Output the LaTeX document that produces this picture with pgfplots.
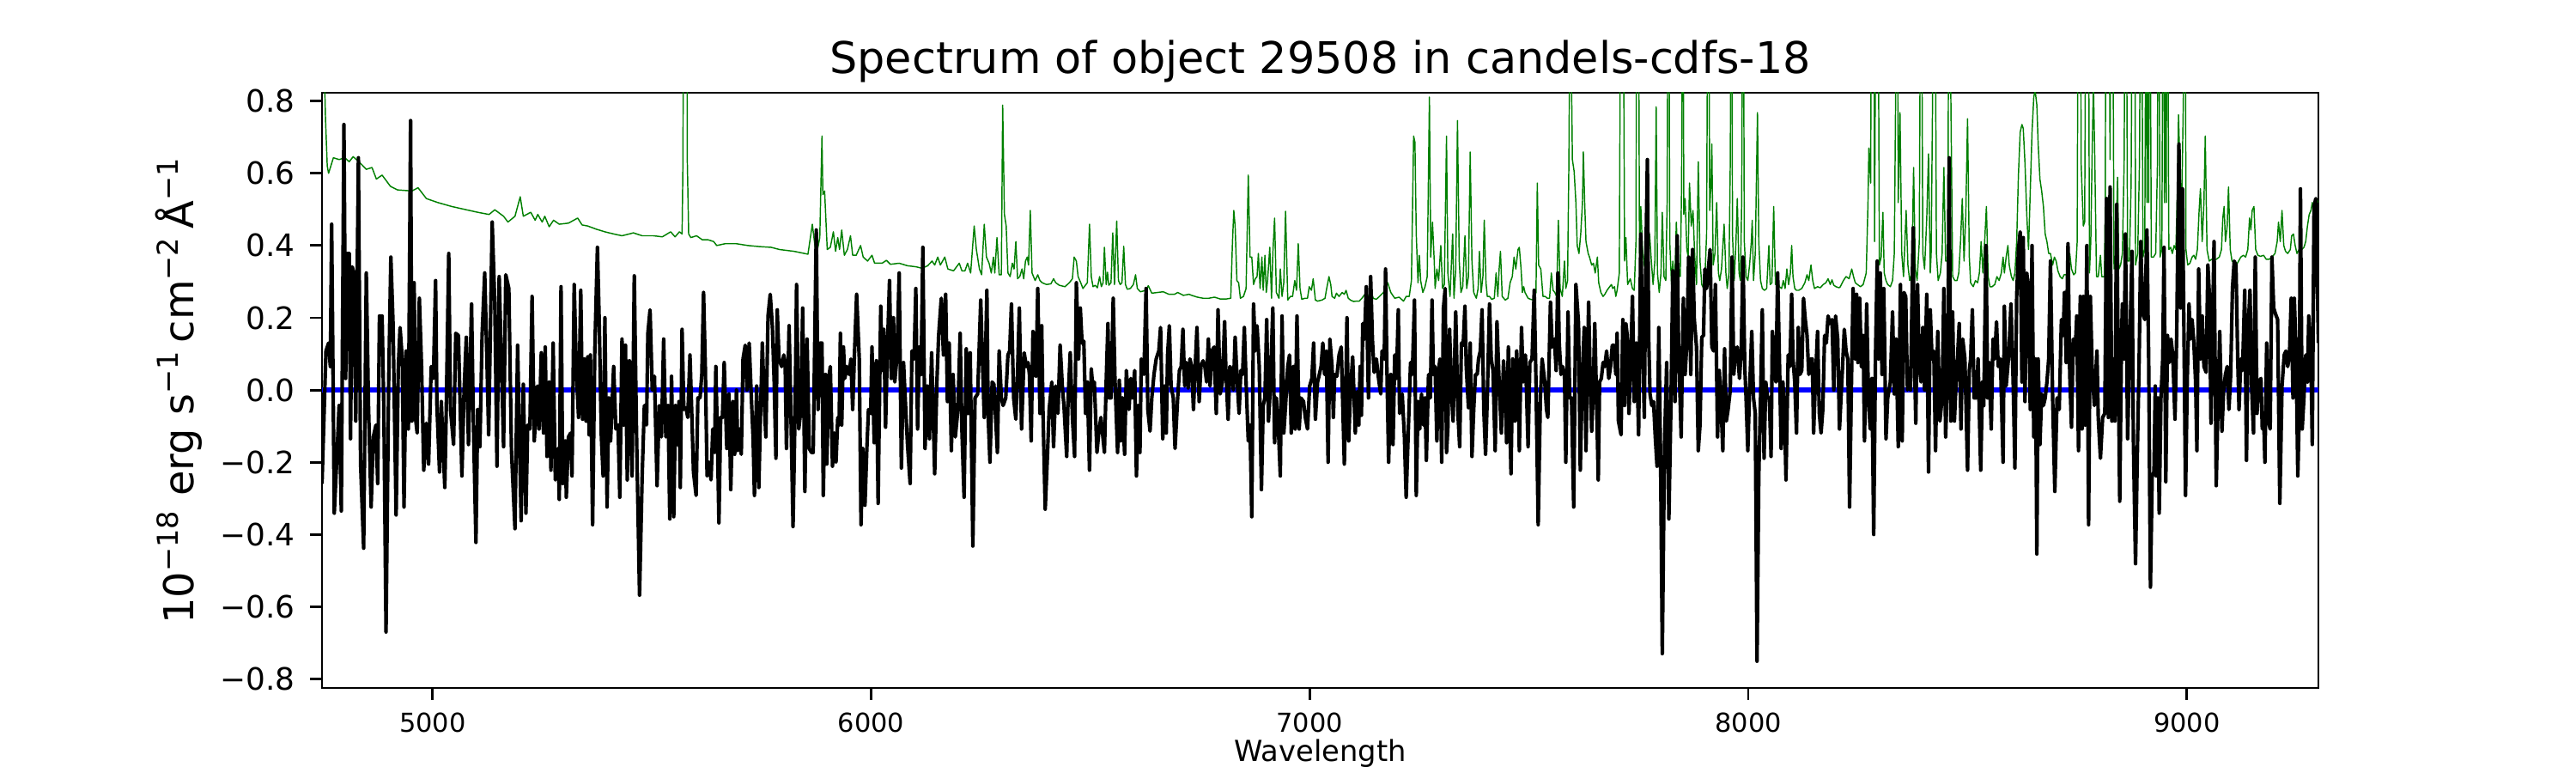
\documentclass[border=0pt]{standalone}
\usepackage{fontspec}
\setmainfont{DejaVu Sans}
\usepackage{pgfplots}
\usepackage{pgfplotstable}
\pgfplotsset{compat=1.18}
\definecolor{mplgreen}{RGB}{0,128,0}
\definecolor{mplblue}{RGB}{0,0,255}

\pgfplotstableread{
lam flux
4748 -0.26
4757 0.108
4763 0.13
4767 0.065
4770 0.459
4776 -0.341
4782 -0.184
4787 -0.043
4792 -0.335
4798 0.735
4802 0.032
4805 0.378
4810 0.378
4813 -0.135
4817 0.341
4821 0.324
4825 -0.086
4831 0.643
4836 -0.205
4843 -0.438
4849 0.324
4854 -0.043
4860 -0.324
4865 -0.13
4871 -0.097
4875 -0.259
4879 0.205
4885 0.205
4889 -0.054
4894 -0.67
4900 0.022
4905 0.368
4910 0.184
4917 -0.346
4922 0.065
4926 0.173
4931 0.086
4935 -0.324
4940 0.108
4945 -0.108
4950 0.746
4953 -0.086
4958 0.297
4962 -0.086
4965 -0.119
4970 0.254
4975 0.065
4980 -0.222
4986 -0.092
4991 -0.205
4997 0.065
5002 0.032
5007 0.303
5010 -0.043
5016 -0.227
5020 -0.032
5028 -0.27
5031 -0.076
5037 0.378
5041 -0.054
5048 -0.151
5053 0.157
5059 0.151
5067 -0.238
5072 0.0
5077 0.146
5082 -0.151
5089 0.238
5093 -0.076
5099 -0.422
5103 -0.054
5108 -0.157
5113 0.151
5119 0.324
5124 0.086
5128 -0.124
5136 0.465
5142 0.238
5147 -0.211
5152 0.314
5157 0.086
5162 -0.157
5167 0.319
5174 0.281
5180 -0.168
5188 -0.384
5194 0.124
5202 -0.362
5207 0.016
5213 -0.341
5217 -0.097
5222 -0.108
5227 0.259
5232 -0.141
5239 0.011
5243 -0.108
5248 0.103
5253 -0.119
5257 0.119
5261 -0.184
5266 0.022
5270 -0.222
5275 0.13
5280 -0.249
5286 -0.162
5289 -0.303
5293 0.286
5297 -0.259
5303 -0.141
5305 -0.297
5310 -0.13
5315 -0.119
5318 -0.238
5323 0.292
5328 0.054
5333 -0.076
5338 0.276
5342 -0.081
5346 0.086
5350 -0.086
5354 0.092
5357 -0.124
5360 0.097
5365 -0.373
5370 0.108
5376 0.395
5380 0.195
5385 -0.13
5389 -0.238
5393 0.2
5398 -0.324
5402 -0.022
5406 -0.141
5413 0.065
5418 -0.108
5423 -0.097
5427 -0.297
5432 0.141
5436 -0.097
5440 0.124
5444 -0.249
5449 0.081
5455 -0.238
5460 0.316
5465 -0.108
5472 -0.568
5478 -0.238
5483 -0.043
5488 -0.097
5491 0.157
5496 0.222
5501 0.0
5506 0.038
5512 -0.265
5517 -0.043
5522 -0.13
5527 0.141
5532 -0.13
5537 -0.043
5541 -0.357
5545 0.038
5550 -0.351
5554 -0.043
5558 -0.151
5562 -0.032
5565 -0.27
5569 0.168
5573 -0.054
5578 -0.049
5582 -0.076
5587 0.097
5591 -0.059
5595 -0.227
5601 -0.292
5605 -0.022
5610 -0.022
5614 0.043
5618 0.27
5622 0.065
5626 -0.238
5630 -0.2
5635 -0.249
5639 -0.108
5643 -0.173
5646 0.065
5650 -0.162
5653 -0.368
5657 -0.076
5661 -0.076
5665 0.076
5671 -0.162
5676 -0.011
5680 -0.276
5685 -0.032
5689 -0.178
5693 0.0
5696 -0.168
5700 -0.108
5704 -0.178
5708 0.086
5713 0.124
5717 0.0
5722 0.13
5727 -0.022
5731 -0.135
5734 -0.292
5739 0.011
5744 -0.27
5747 -0.108
5752 0.13
5756 -0.022
5760 -0.13
5765 0.205
5770 0.265
5775 0.173
5779 0.022
5783 -0.189
5786 0.222
5790 0.086
5796 0.065
5801 0.097
5804 0.076
5807 -0.162
5813 0.178
5817 -0.054
5822 -0.378
5827 -0.032
5830 0.292
5835 -0.108
5840 -0.054
5844 0.227
5849 -0.281
5854 0.141
5859 -0.162
5864 -0.173
5868 -0.173
5875 0.443
5879 -0.054
5884 0.13
5888 0.13
5891 -0.292
5896 0.043
5899 -0.205
5904 0.038
5907 0.065
5912 -0.211
5916 -0.119
5920 -0.2
5924 -0.076
5927 -0.097
5930 0.157
5933 -0.097
5937 0.119
5940 0.032
5945 0.065
5950 0.043
5954 0.086
5958 -0.054
5962 0.097
5967 0.265
5973 0.086
5977 -0.373
5981 -0.162
5986 -0.319
5990 -0.173
5994 -0.054
5999 -0.065
6002 0.119
6007 -0.146
6012 0.081
6016 -0.314
6022 0.232
6025 0.054
6029 0.168
6033 -0.103
6037 0.108
6042 0.303
6046 0.032
6051 0.2
6054 0.022
6059 0.092
6064 0.324
6069 -0.216
6074 0.076
6079 -0.054
6083 -0.151
6089 -0.259
6093 0.108
6098 0.086
6102 0.281
6106 -0.108
6110 0.119
6114 0.043
6118 0.395
6123 -0.162
6128 0.011
6133 -0.135
6138 0.103
6145 -0.232
6150 0.022
6154 0.151
6160 0.254
6165 0.097
6170 0.265
6174 -0.032
6178 0.13
6183 -0.168
6187 0.043
6192 -0.13
6198 -0.054
6203 0.157
6207 -0.108
6212 -0.297
6217 0.114
6222 -0.065
6226 0.103
6232 -0.432
6237 -0.022
6243 -0.011
6250 0.249
6254 0.076
6258 -0.076
6264 0.276
6267 -0.076
6271 -0.2
6276 0.022
6280 0.016
6283 -0.054
6288 -0.173
6292 0.108
6297 -0.022
6301 -0.043
6307 -0.022
6312 0.097
6316 0.108
6320 0.238
6325 -0.022
6330 -0.081
6334 0.054
6338 0.227
6343 -0.108
6349 0.103
6354 0.065
6358 0.076
6361 0.043
6365 -0.141
6369 0.162
6372 0.043
6376 0.038
6380 0.281
6385 -0.065
6389 0.178
6392 -0.065
6397 -0.33
6402 -0.184
6406 -0.054
6412 0.022
6416 -0.157
6421 0.011
6426 -0.065
6431 0.124
6436 0.011
6440 -0.049
6446 -0.184
6449 -0.032
6454 0.103
6459 -0.076
6464 -0.184
6468 0.297
6473 0.086
6477 0.227
6481 0.13
6485 0.135
6489 -0.065
6493 0.022
6498 -0.222
6502 0.059
6506 0.0
6509 0.022
6515 -0.173
6519 -0.119
6524 -0.076
6528 -0.124
6532 -0.173
6536 0.022
6540 0.184
6543 -0.022
6547 -0.022
6552 0.254
6556 0.032
6562 -0.173
6566 0.027
6569 -0.141
6573 -0.022
6578 -0.178
6582 0.054
6588 -0.054
6592 0.032
6596 -0.022
6601 0.054
6605 -0.238
6609 -0.043
6613 -0.173
6616 0.086
6622 0.043
6627 0.281
6631 -0.054
6636 -0.114
6640 -0.022
6645 0.043
6650 0.086
6656 0.108
6660 0.173
6665 -0.135
6669 0.011
6673 -0.119
6676 0.097
6680 0.178
6684 0.011
6689 -0.022
6693 -0.162
6699 -0.022
6703 0.054
6707 0.065
6711 0.168
6715 0.011
6719 0.076
6723 0.005
6727 0.086
6731 0.065
6735 -0.054
6739 0.065
6743 0.173
6748 -0.032
6752 0.065
6757 0.081
6761 0.065
6765 0.022
6769 0.141
6773 0.011
6777 0.108
6782 0.119
6787 -0.065
6791 0.222
6796 -0.011
6801 0.022
6806 0.189
6809 0.054
6814 -0.081
6818 0.065
6823 0.054
6826 0.0
6830 0.146
6834 0.043
6839 -0.065
6843 0.054
6847 0.043
6851 0.173
6855 0.022
6860 -0.141
6864 -0.097
6868 -0.351
6872 0.238
6876 0.108
6880 0.178
6885 0.065
6890 -0.276
6894 -0.043
6898 -0.022
6902 0.195
6906 -0.086
6910 0.0
6916 0.227
6920 -0.146
6924 -0.022
6928 -0.086
6933 -0.238
6937 0.205
6941 -0.119
6945 -0.043
6950 0.065
6954 0.097
6958 -0.119
6963 0.065
6967 -0.108
6971 0.205
6976 -0.108
6980 -0.022
6986 -0.032
6990 -0.076
6995 -0.108
7000 0.011
7005 0.032
7009 0.13
7013 -0.081
7018 0.022
7022 0.043
7026 0.065
7030 0.13
7034 0.043
7038 0.108
7042 -0.2
7046 0.141
7051 0.065
7054 -0.076
7057 0.043
7062 0.038
7067 0.097
7072 0.119
7075 -0.022
7079 -0.205
7082 -0.022
7085 0.2
7089 -0.141
7093 0.0
7098 0.092
7104 -0.119
7108 -0.005
7112 -0.097
7115 0.065
7118 -0.07
7121 0.184
7125 0.141
7129 0.286
7134 -0.022
7139 0.314
7143 0.141
7147 0.049
7152 0.086
7157 0.032
7162 -0.011
7165 0.108
7170 0.086
7173 0.335
7176 0.065
7180 -0.2
7185 0.043
7190 -0.151
7194 0.097
7198 0.032
7202 0.222
7205 -0.065
7211 -0.011
7216 -0.13
7220 -0.297
7225 -0.108
7230 0.076
7234 0.043
7239 0.249
7243 -0.292
7247 -0.032
7251 -0.108
7255 -0.011
7259 -0.097
7263 -0.022
7266 -0.195
7271 0.043
7275 -0.022
7279 0.249
7282 0.043
7286 0.065
7290 -0.141
7294 0.054
7297 0.086
7301 -0.2
7305 0.227
7309 0.281
7312 -0.173
7315 -0.108
7319 0.168
7323 0.0
7327 -0.086
7330 0.065
7333 0.216
7338 -0.065
7342 -0.157
7346 0.13
7350 0.124
7354 0.232
7357 0.065
7362 -0.049
7366 0.13
7370 -0.184
7374 -0.054
7378 0.043
7382 0.043
7385 0.086
7389 0.108
7393 0.222
7397 -0.054
7401 -0.178
7405 -0.022
7410 0.238
7414 0.086
7418 0.054
7423 -0.168
7427 0.189
7432 0.022
7437 -0.119
7442 0.081
7446 -0.005
7449 -0.146
7453 0.119
7459 -0.232
7463 0.086
7468 -0.086
7472 0.108
7476 -0.022
7478 -0.168
7483 0.173
7487 0.022
7492 0.097
7498 -0.157
7502 0.076
7507 0.086
7512 0.276
7516 0.022
7521 -0.373
7526 -0.022
7530 0.086
7536 0.022
7540 -0.054
7543 -0.076
7549 0.243
7553 0.119
7558 0.141
7562 0.054
7566 0.324
7569 0.13
7573 0.043
7577 0.065
7581 0.043
7584 -0.2
7589 0.216
7593 -0.022
7597 -0.022
7602 -0.324
7607 0.292
7613 0.184
7617 -0.222
7622 0.054
7626 0.173
7630 -0.168
7636 0.243
7639 0.065
7643 -0.114
7646 -0.022
7650 0.184
7654 -0.022
7658 -0.249
7661 0.022
7665 0.032
7669 0.076
7673 0.065
7677 0.108
7682 0.032
7686 0.065
7690 0.124
7694 0.124
7698 0.043
7701 0.157
7704 -0.086
7710 -0.124
7714 0.195
7718 -0.043
7721 0.184
7724 0.151
7728 -0.065
7732 0.086
7736 0.259
7740 -0.032
7745 0.13
7750 -0.124
7755 0.432
7759 0.141
7763 -0.076
7766 0.324
7770 0.638
7773 0.141
7776 -0.011
7780 -0.043
7784 -0.032
7788 -0.13
7792 -0.211
7796 0.173
7800 -0.184
7804 -0.73
7809 -0.151
7814 0.076
7819 -0.357
7824 -0.022
7828 0.33
7833 -0.032
7838 0.427
7841 0.13
7847 -0.13
7852 0.254
7856 0.043
7860 0.13
7864 0.368
7869 0.043
7873 0.389
7877 0.195
7882 0.119
7886 -0.168
7890 -0.097
7894 0.146
7898 0.151
7901 0.335
7905 0.281
7909 0.335
7913 0.389
7917 0.119
7921 0.108
7925 0.292
7930 -0.13
7934 0.054
7938 -0.043
7942 -0.168
7946 0.114
7950 -0.086
7954 -0.054
7959 0.0
7963 0.368
7967 0.043
7971 0.108
7975 0.119
7980 0.032
7984 0.108
7988 0.368
7992 0.065
7995 -0.022
7999 -0.168
8003 0.0
8008 0.162
8012 -0.022
8016 -0.065
8020 -0.751
8024 -0.238
8028 -0.022
8032 0.222
8036 -0.189
8040 0.022
8044 -0.022
8048 -0.022
8052 -0.184
8055 0.162
8059 0.086
8063 0.022
8067 0.324
8071 0.086
8075 -0.162
8079 0.022
8083 -0.076
8086 -0.249
8091 0.097
8095 0.065
8099 0.265
8102 0.086
8106 0.022
8110 -0.119
8114 0.173
8118 0.043
8122 0.054
8126 0.254
8130 0.195
8134 0.151
8138 0.043
8142 0.086
8146 0.086
8149 -0.119
8153 0.022
8158 0.162
8162 -0.065
8166 -0.119
8170 -0.054
8174 0.151
8178 0.13
8182 0.205
8186 0.184
8191 0.195
8195 0.0
8199 0.205
8204 0.141
8208 -0.108
8215 0.065
8219 0.168
8223 0.108
8227 0.086
8231 -0.324
8235 0.0
8239 0.281
8244 0.086
8247 0.265
8250 0.076
8254 0.254
8258 0.065
8262 0.151
8265 -0.141
8270 0.238
8274 -0.022
8278 -0.108
8282 0.032
8286 -0.4
8290 0.086
8294 0.357
8297 0.086
8301 0.324
8305 0.043
8309 0.281
8314 -0.135
8318 -0.022
8324 0.022
8329 0.216
8333 -0.011
8337 0.141
8342 -0.157
8347 0.292
8351 -0.141
8355 0.27
8359 0.259
8363 0.0
8367 0.054
8370 0.0
8376 0.449
8378 0.151
8382 -0.092
8386 0.292
8390 0.065
8394 0.022
8398 0.173
8402 0.0
8407 0.265
8411 -0.227
8415 0.222
8419 0.086
8423 0.108
8427 -0.168
8432 0.162
8437 -0.086
8442 -0.022
8446 0.281
8450 -0.13
8455 0.054
8458 0.643
8462 -0.086
8466 0.216
8470 -0.086
8474 0.022
8477 0.086
8481 0.184
8485 -0.108
8489 0.141
8494 0.086
8500 -0.222
8504 0.054
8507 0.086
8511 0.222
8515 -0.022
8520 -0.022
8524 0.086
8530 -0.222
8534 0.022
8537 -0.043
8542 0.4
8546 -0.022
8549 0.076
8554 -0.108
8558 0.141
8562 0.086
8566 0.189
8570 0.065
8575 0.086
8581 -0.2
8584 0.232
8588 0.011
8594 0.097
8599 0.238
8604 0.022
8608 -0.216
8612 0.259
8616 0.389
8620 0.438
8624 0.022
8627 0.422
8631 -0.032
8635 0.324
8639 0.281
8643 -0.054
8647 0.4
8651 -0.13
8655 0.086
8658 -0.454
8661 0.086
8665 -0.151
8669 -0.011
8673 -0.043
8677 -0.022
8681 0.022
8685 0.086
8689 0.357
8694 -0.022
8699 -0.281
8704 -0.022
8709 -0.054
8714 0.195
8718 0.151
8721 0.27
8725 0.076
8729 0.405
8733 0.043
8737 -0.103
8741 0.141
8745 0.097
8749 0.205
8753 -0.168
8757 0.259
8761 -0.108
8764 0.259
8768 -0.097
8772 0.4
8776 -0.373
8780 0.259
8784 0.065
8789 -0.043
8795 0.108
8798 -0.076
8803 -0.189
8808 -0.076
8813 -0.065
8817 0.53
8821 -0.076
8825 0.562
8829 -0.086
8832 0.086
8836 -0.086
8840 0.514
8844 0.032
8847 -0.308
8851 0.13
8853 0.238
8857 0.086
8860 0.432
8865 -0.135
8869 0.076
8875 0.384
8878 -0.13
8883 -0.481
8887 -0.184
8891 0.065
8895 0.411
8899 0.216
8904 0.195
8909 0.443
8913 0.086
8917 -0.546
8921 -0.238
8925 -0.227
8928 0.011
8930 -0.238
8934 -0.022
8937 -0.341
8941 -0.022
8945 0.086
8948 0.395
8952 -0.254
8956 0.151
8960 0.076
8964 0.141
8968 0.097
8973 -0.081
8977 0.162
8982 0.681
8986 0.227
8990 0.557
8994 0.086
8997 -0.292
9001 0.032
9005 0.238
9008 0.141
9012 0.195
9016 0.13
9020 0.022
9023 -0.168
9027 0.335
9031 0.086
9035 0.205
9039 0.065
9044 0.049
9048 0.346
9052 0.249
9055 -0.092
9058 0.13
9062 0.411
9067 -0.265
9071 -0.043
9075 0.162
9080 -0.114
9084 0.0
9088 0.043
9092 0.065
9096 -0.054
9100 0.043
9104 0.281
9108 0.357
9112 0.346
9116 0.086
9119 -0.054
9123 0.086
9127 0.054
9132 0.276
9136 -0.195
9140 0.173
9144 0.276
9148 0.0
9152 -0.119
9156 0.368
9160 -0.065
9164 0.022
9169 0.032
9172 -0.108
9175 -0.065
9178 -0.2
9182 0.13
9186 -0.086
9190 -0.108
9194 0.368
9198 0.227
9202 0.211
9207 0.195
9212 -0.314
9217 0.011
9222 0.097
9226 0.108
9230 0.065
9234 0.097
9238 0.254
9242 -0.022
9245 0.254
9249 0.108
9253 -0.238
9256 -0.076
9259 0.557
9263 -0.108
9267 -0.022
9271 0.097
9275 0.022
9278 0.205
9283 0.086
9286 -0.151
9290 0.508
9294 0.53
9300 0.13
}\fluxtable

\pgfplotstableread{
lam sky
4748 1.2
4752 0.95
4756 0.75
4760 0.62
4763 0.60
4774 0.643
4787 0.638
4800 0.643
4810 0.632
4819 0.646
4832 0.632
4849 0.611
4862 0.616
4872 0.584
4885 0.595
4904 0.564
4920 0.554
4953 0.551
4967 0.560
4986 0.530
5012 0.519
5044 0.508
5077 0.499
5103 0.492
5129 0.486
5142 0.499
5162 0.481
5172 0.465
5188 0.481
5200 0.535
5207 0.481
5224 0.492
5234 0.470
5240 0.486
5250 0.465
5256 0.481
5266 0.452
5276 0.470
5289 0.459
5310 0.462
5331 0.476
5341 0.457
5354 0.454
5374 0.445
5393 0.438
5413 0.432
5432 0.427
5458 0.435
5478 0.427
5504 0.427
5524 0.424
5543 0.438
5553 0.424
5563 0.438
5569 0.432
5571 0.63
5573 1.5
5579 1.5
5581 0.63
5584 0.432
5589 0.422
5602 0.427
5615 0.416
5628 0.416
5641 0.411
5648 0.4
5667 0.405
5693 0.405
5719 0.4
5746 0.397
5772 0.395
5791 0.389
5824 0.384
5856 0.376
5866 0.459
5873 0.389
5877 0.384
5883 0.422
5888 0.703
5890 0.541
5894 0.551
5900 0.389
5907 0.395
5914 0.438
5919 0.384
5924 0.422
5928 0.389
5933 0.443
5939 0.373
5946 0.389
5953 0.427
5958 0.373
5966 0.373
5976 0.4
5982 0.368
5992 0.357
6002 0.373
6008 0.351
6025 0.351
6035 0.359
6044 0.348
6064 0.351
6083 0.344
6103 0.341
6116 0.337
6129 0.344
6139 0.357
6145 0.346
6152 0.368
6158 0.346
6168 0.368
6175 0.335
6188 0.330
6201 0.351
6207 0.330
6214 0.330
6220 0.351
6227 0.324
6235 0.454
6240 0.389
6247 0.335
6252 0.319
6258 0.459
6263 0.368
6269 0.351
6274 0.324
6279 0.368
6282 0.324
6287 0.422
6292 0.319
6297 0.319
6300 0.789
6304 0.486
6308 0.454
6312 0.324
6317 0.314
6322 0.351
6326 0.335
6330 0.411
6334 0.308
6339 0.314
6344 0.335
6348 0.308
6352 0.357
6356 0.368
6359 0.346
6363 0.497
6367 0.324
6374 0.303
6380 0.319
6385 0.303
6390 0.297
6400 0.292
6410 0.294
6416 0.308
6421 0.297
6429 0.290
6442 0.286
6452 0.297
6459 0.308
6463 0.368
6468 0.357
6472 0.314
6478 0.297
6483 0.281
6493 0.297
6498 0.459
6502 0.314
6506 0.286
6511 0.290
6516 0.283
6521 0.314
6525 0.286
6529 0.297
6532 0.395
6536 0.292
6539 0.326
6542 0.290
6547 0.297
6551 0.435
6555 0.292
6560 0.468
6564 0.303
6568 0.292
6572 0.297
6576 0.398
6580 0.292
6584 0.279
6591 0.281
6598 0.292
6603 0.319
6607 0.281
6614 0.272
6627 0.276
6632 0.289
6640 0.268
6653 0.270
6666 0.272
6679 0.265
6692 0.265
6699 0.270
6712 0.262
6725 0.265
6731 0.262
6744 0.257
6757 0.254
6770 0.254
6783 0.257
6796 0.252
6810 0.252
6820 0.254
6824 0.411
6827 0.497
6830 0.454
6834 0.303
6838 0.297
6842 0.254
6849 0.259
6855 0.281
6860 0.595
6864 0.368
6868 0.368
6872 0.292
6876 0.308
6880 0.314
6883 0.378
6887 0.281
6891 0.368
6894 0.276
6898 0.373
6901 0.270
6904 0.303
6909 0.395
6913 0.254
6916 0.378
6920 0.476
6924 0.270
6930 0.254
6933 0.335
6937 0.259
6941 0.297
6945 0.495
6950 0.249
6956 0.259
6961 0.259
6966 0.303
6970 0.276
6974 0.405
6978 0.281
6982 0.251
6989 0.254
6995 0.254
6999 0.286
7004 0.276
7008 0.308
7013 0.249
7018 0.246
7028 0.249
7035 0.254
7038 0.276
7044 0.314
7048 0.292
7051 0.259
7057 0.254
7061 0.268
7067 0.259
7074 0.270
7079 0.265
7083 0.276
7088 0.254
7093 0.249
7100 0.245
7106 0.246
7113 0.246
7119 0.254
7126 0.265
7132 0.254
7139 0.276
7145 0.254
7152 0.251
7159 0.259
7168 0.270
7178 0.297
7185 0.270
7194 0.254
7204 0.257
7214 0.246
7220 0.259
7227 0.259
7232 0.303
7237 0.703
7240 0.686
7243 0.432
7247 0.297
7250 0.373
7253 0.303
7258 0.270
7263 0.286
7268 0.314
7273 0.811
7276 0.368
7280 0.465
7284 0.357
7286 0.281
7290 0.335
7294 0.303
7299 0.4
7303 0.281
7307 0.292
7312 0.703
7315 0.324
7320 0.259
7326 0.432
7329 0.254
7333 0.335
7337 0.746
7341 0.357
7345 0.270
7349 0.286
7354 0.427
7358 0.281
7362 0.314
7366 0.659
7370 0.357
7374 0.270
7380 0.254
7384 0.281
7387 0.384
7391 0.270
7395 0.314
7398 0.470
7402 0.297
7405 0.259
7410 0.259
7415 0.251
7421 0.254
7425 0.324
7429 0.259
7432 0.335
7435 0.384
7439 0.259
7446 0.249
7452 0.254
7457 0.297
7462 0.314
7466 0.368
7470 0.335
7475 0.389
7478 0.395
7482 0.335
7485 0.270
7488 0.286
7491 0.270
7498 0.254
7504 0.251
7511 0.249
7516 0.270
7519 0.573
7522 0.346
7527 0.335
7532 0.259
7537 0.259
7542 0.254
7547 0.254
7551 0.324
7555 0.276
7559 0.270
7563 0.259
7567 0.470
7571 0.281
7576 0.259
7581 0.357
7584 0.281
7588 0.303
7591 0.627
7594 1.2
7599 0.638
7603 0.605
7607 0.519
7610 0.4
7614 0.378
7618 0.432
7622 0.519
7624 0.659
7627 0.519
7630 0.411
7635 0.378
7638 0.368
7643 0.346
7647 0.351
7651 0.324
7656 0.368
7659 0.297
7664 0.270
7669 0.259
7673 0.265
7678 0.276
7684 0.286
7688 0.292
7691 0.281
7695 0.286
7698 0.259
7701 0.276
7706 0.324
7710 1.5
7714 1.5
7718 0.357
7721 0.422
7725 0.292
7731 0.308
7736 0.281
7740 0.276
7744 0.411
7746 1.5
7749 1.5
7752 0.378
7755 0.508
7759 0.389
7763 0.346
7767 0.324
7771 0.411
7775 0.432
7779 0.357
7783 0.292
7787 0.357
7790 0.784
7793 0.324
7797 0.270
7801 0.324
7804 0.492
7808 0.314
7812 0.303
7815 0.519
7818 1.5
7821 0.411
7825 0.292
7828 0.357
7832 0.281
7836 0.465
7840 0.335
7845 0.314
7848 0.562
7851 1.5
7853 0.486
7856 0.530
7860 0.389
7863 0.368
7866 0.573
7870 0.454
7874 0.497
7878 0.368
7882 0.292
7886 0.632
7890 0.357
7894 0.292
7898 0.281
7902 0.335
7905 0.432
7909 1.5
7912 0.497
7915 0.573
7917 0.681
7920 0.346
7924 0.378
7928 0.519
7932 0.324
7935 0.303
7939 0.335
7945 0.459
7949 0.324
7952 0.281
7956 0.324
7959 0.627
7962 1.5
7964 0.432
7968 0.303
7972 0.411
7975 0.530
7979 0.324
7982 0.303
7985 0.519
7988 1.5
7991 0.411
7995 0.314
7999 0.303
8003 0.346
8007 0.411
8009 0.470
8012 0.303
8016 0.378
8021 0.768
8024 0.411
8028 0.303
8032 0.281
8037 0.276
8042 0.281
8047 0.4
8050 0.292
8054 0.297
8058 0.508
8062 0.292
8067 0.303
8071 0.286
8076 0.281
8080 0.303
8084 0.281
8088 0.335
8092 0.292
8096 0.324
8099 0.4
8102 0.314
8106 0.281
8110 0.276
8115 0.276
8122 0.281
8129 0.297
8134 0.319
8138 0.303
8143 0.346
8147 0.303
8151 0.281
8158 0.286
8164 0.283
8171 0.292
8177 0.297
8182 0.308
8187 0.292
8191 0.305
8195 0.290
8200 0.286
8207 0.283
8210 0.286
8217 0.303
8223 0.314
8230 0.308
8236 0.335
8240 0.314
8244 0.297
8249 0.292
8256 0.286
8262 0.292
8269 0.324
8273 0.519
8275 0.670
8279 0.573
8282 1.5
8286 1.5
8288 0.411
8292 1.5
8295 1.5
8299 0.346
8303 0.368
8307 0.492
8310 0.324
8314 0.303
8318 0.292
8324 0.286
8329 0.303
8333 0.378
8337 0.95
8339 1.5
8342 0.519
8346 0.768
8350 0.378
8354 0.314
8360 0.497
8364 0.346
8368 0.303
8373 0.324
8377 0.616
8381 0.335
8385 0.303
8390 0.411
8394 1.5
8398 0.378
8402 0.335
8407 0.476
8411 0.654
8415 0.324
8417 0.378
8421 0.9
8425 1.5
8429 0.378
8433 0.303
8438 0.324
8442 0.378
8446 0.616
8450 0.357
8455 0.357
8458 1.5
8462 0.8
8466 0.314
8471 0.303
8476 0.303
8480 0.324
8484 0.411
8488 0.530
8492 0.357
8496 0.486
8500 0.751
8504 0.368
8507 0.297
8513 0.286
8518 0.303
8523 0.297
8527 0.324
8531 0.411
8535 0.324
8539 0.411
8543 0.508
8547 0.314
8551 0.286
8556 0.286
8562 0.292
8567 0.314
8572 0.303
8577 0.324
8581 0.368
8584 0.324
8588 0.368
8592 0.4
8595 0.346
8600 0.314
8604 0.303
8608 0.324
8612 0.411
8616 0.595
8620 0.714
8624 0.735
8627 0.724
8631 0.627
8635 0.486
8639 0.389
8643 0.551
8647 0.714
8651 0.811
8654 0.83
8658 0.789
8661 0.681
8665 0.584
8669 0.551
8673 0.508
8677 0.432
8681 0.411
8685 0.378
8689 0.378
8694 0.346
8698 0.368
8702 0.357
8706 0.330
8711 0.314
8716 0.308
8720 0.319
8725 0.319
8729 0.335
8733 0.378
8737 0.335
8742 0.319
8746 0.324
8750 0.411
8753 1.5
8757 1.5
8759 0.627
8764 0.454
8767 0.465
8771 1.5
8775 1.5
8778 0.324
8781 0.411
8784 0.649
8787 0.85
8790 0.649
8794 0.314
8798 0.314
8803 0.373
8806 0.314
8812 0.314
8814 0.519
8816 1.5
8821 1.5
8825 0.638
8827 1.5
8830 1.5
8834 0.335
8838 0.378
8842 0.589
8845 0.335
8849 0.346
8853 0.378
8857 0.627
8861 1.5
8865 0.357
8869 0.357
8873 0.573
8877 1.5
8881 1.5
8883 0.346
8888 0.378
8892 0.627
8896 1.5
8900 0.368
8904 0.389
8908 1.5
8909 0.519
8911 1.5
8913 0.519
8915 1.5
8919 0.368
8924 0.368
8929 0.378
8933 0.627
8935 1.5
8939 0.368
8943 0.389
8947 1.5
8949 0.519
8951 1.5
8953 0.519
8955 1.5
8959 0.389
8963 0.395
8967 0.378
8971 0.4
8975 0.389
8979 0.573
8981 0.762
8984 0.627
8988 0.486
8992 0.8
8996 1.5
8998 0.389
9002 0.346
9007 0.351
9012 0.368
9016 0.373
9020 0.362
9024 0.389
9028 0.497
9031 0.557
9035 0.411
9039 0.519
9042 0.703
9046 0.389
9051 0.357
9057 0.362
9062 0.357
9067 0.362
9074 0.368
9079 0.389
9082 0.476
9085 0.508
9088 0.411
9092 0.454
9095 0.562
9099 0.389
9103 0.357
9108 0.351
9113 0.346
9118 0.357
9123 0.368
9129 0.373
9134 0.368
9139 0.389
9143 0.476
9146 0.443
9149 0.497
9153 0.508
9157 0.389
9162 0.373
9168 0.370
9175 0.373
9181 0.362
9188 0.362
9194 0.368
9201 0.378
9206 0.411
9209 0.465
9213 0.411
9217 0.497
9221 0.4
9225 0.384
9230 0.378
9236 0.389
9239 0.427
9243 0.432
9247 0.4
9251 0.378
9256 0.389
9262 0.389
9267 0.395
9271 0.411
9275 0.454
9279 0.486
9283 0.497
9286 0.519
9290 0.497
9296 0.530
9300 0.519
}\skytable

\begin{document}
\begin{tikzpicture}
\useasboundingbox (-90pt,-23.76pt) rectangle (630pt,192.24pt);
\begin{axis}[
  at={(0,0)}, anchor=south west,
  scale only axis, width=558pt, height=166.32pt,
  xmin=4748, xmax=9300, ymin=-0.825, ymax=0.823,
  axis line style={line width=0.7pt, black},
  xtick={5000,6000,7000,8000,9000},
  xticklabels={5000,6000,7000,8000,9000},
  ytick={-0.8,-0.6,-0.4,-0.2,0,0.2,0.4,0.6,0.8},
  yticklabels={−0.8,−0.6,−0.4,−0.2,0.0,0.2,0.4,0.6,0.8},
  xtick pos=bottom, ytick pos=left,
  tick align=outside, major tick length=3.4pt,
  every tick/.style={black, line width=0.7pt},
  minor tick num=0,
  xticklabel style={font=\fontsize{7.3}{9}\selectfont, anchor=base, inner sep=0pt, yshift=-9pt},
  yticklabel style={font=\fontsize{8.6}{10}\selectfont, anchor=east, inner sep=0pt, xshift=-4pt},
  xlabel={Wavelength},
  xlabel style={at={(axis description cs:0.5,-0.1239)}, anchor=base, inner sep=0pt, font=\fontsize{8.1}{10}\selectfont},
  ylabel={10\textsuperscript{−18} erg s\textsuperscript{−1}\,cm\textsuperscript{−2}\,Å\textsuperscript{−1}},
  ylabel style={at={(axis description cs:-0.0642,0.5)}, rotate=0, anchor=base, inner sep=0pt, font=\fontsize{11.5}{13}\selectfont},
  clip=true,
]
\addplot[mplblue, line width=1.3pt, forget plot] coordinates {(4748,0) (9300,0)};
\addplot[mplgreen, line width=0.35pt, line join=round] table[x=lam, y=sky] {\skytable};
\addplot[black, line width=1.0pt, line join=round] table[x=lam, y=flux] {\fluxtable};
\end{axis}
\node[anchor=base, inner sep=0pt, font=\fontsize{12.2}{14}\selectfont] at (279pt,171.62pt) {Spectrum of object 29508 in candels-cdfs-18};
\end{tikzpicture}
\end{document}
